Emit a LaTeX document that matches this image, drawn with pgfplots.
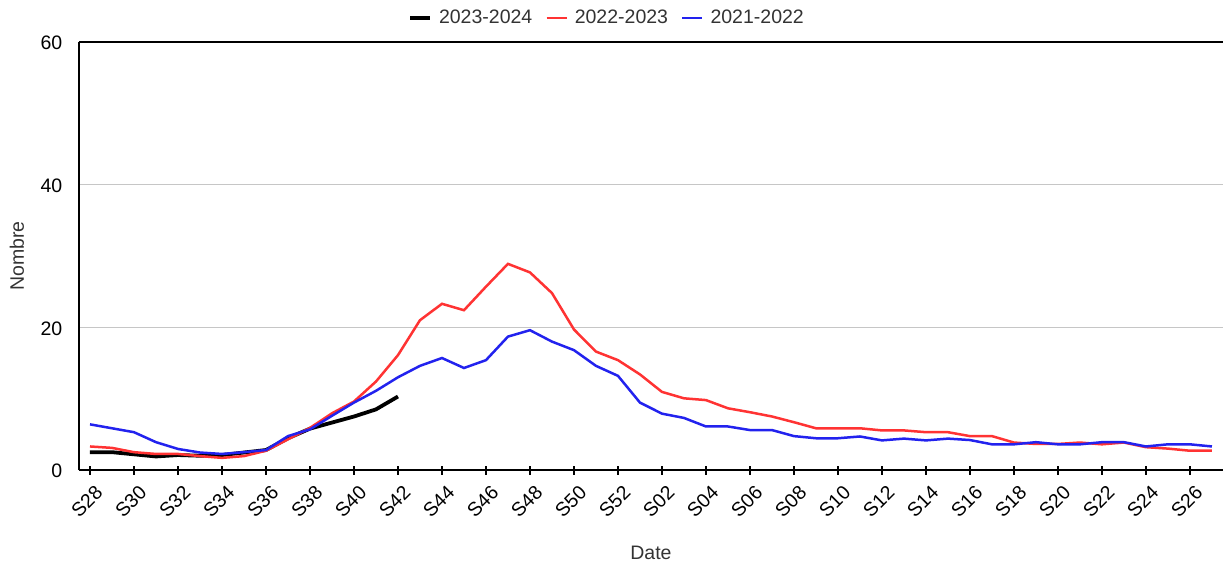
\documentclass[border=0pt]{standalone}
\usepackage{fontspec}
\setmainfont{Liberation Sans}
\usepackage{pgfplots}
\pgfplotsset{compat=1.18}
\usepackage{pgfplotstable}
\definecolor{cred}{RGB}{255,51,51}
\definecolor{cblue}{RGB}{34,34,238}
\definecolor{ctext}{RGB}{51,51,51}
\pgfplotstableread{
x y
0 2.5
1 2.5
2 2.2
3 1.9
4 2.1
5 2.0
6 2.1
7 2.45
8 2.8
9 4.45
10 5.8
11 6.65
12 7.5
13 8.5
14 10.3
}\blackdata
\pgfplotstableread{
x y
0 3.3
1 3.1
2 2.5
3 2.25
4 2.25
5 1.95
6 1.7
7 1.95
8 2.7
9 4.3
10 5.9
11 7.95
12 9.6
13 12.4
14 16.1
15 21.0
16 23.3
17 22.4
18 25.7
19 28.9
20 27.7
21 24.8
22 19.7
23 16.6
24 15.4
25 13.4
26 10.95
27 10.05
28 9.8
29 8.65
30 8.1
31 7.5
32 6.7
33 5.85
34 5.85
35 5.85
36 5.55
37 5.55
38 5.3
39 5.3
40 4.75
41 4.75
42 3.85
43 3.65
44 3.65
45 3.85
46 3.6
47 3.85
48 3.2
49 3.0
50 2.7
51 2.7
}\reddata
\pgfplotstableread{
x y
0 6.4
1 5.85
2 5.3
3 3.9
4 2.95
5 2.45
6 2.25
7 2.5
8 2.8
9 4.75
10 5.7
11 7.6
12 9.45
13 11.1
14 13.0
15 14.6
16 15.7
17 14.3
18 15.4
19 18.7
20 19.6
21 18.0
22 16.8
23 14.6
24 13.2
25 9.45
26 7.9
27 7.3
28 6.1
29 6.1
30 5.6
31 5.6
32 4.75
33 4.45
34 4.45
35 4.7
36 4.15
37 4.4
38 4.15
39 4.4
40 4.2
41 3.6
42 3.6
43 3.9
44 3.6
45 3.6
46 3.9
47 3.9
48 3.3
49 3.6
50 3.6
51 3.3
}\bluedata
\begin{document}
\fontsize{19.5pt}{23pt}\selectfont
\begin{tikzpicture}
\begin{axis}[
  at={(0pt,0pt)}, anchor=south west,
  scale only axis, width=1144pt, height=428pt,
  xmin=-0.5, xmax=51.5, ymin=0, ymax=60,
  axis x line*=bottom, axis y line*=left,
  axis line style={-, black, line width=1.5pt},
  xtick={0,2,...,50},
  xticklabels={S28,S30,S32,S34,S36,S38,S40,S42,S44,S46,S48,S50,S52,S02,S04,S06,S08,S10,S12,S14,S16,S18,S20,S22,S24,S26},
  xticklabel style={rotate=45, anchor=east, inner sep=1pt, yshift=-17pt, xshift=-3pt},
  x tick style={black, line width=1.2pt},
  major tick length=9pt, tick align=center,
  ytick={0,20,40,60},
  y tick style={draw=none},
  yticklabel style={anchor=east, inner sep=0pt, xshift=-12pt, yshift=-1pt},
  ymajorgrids, grid style={gray!45, line width=1pt},
  /pgf/number format/assume math mode=true,
  xlabel={Date}, ylabel={Nombre},
  xlabel style={text=ctext, at={(axis description cs:0.5,0)}, anchor=base, yshift=-89pt},
  ylabel style={text=ctext, at={(axis description cs:0,0.5)}, anchor=base, yshift=55pt},
  legend style={draw=none, fill=none, text=ctext, at={(axis description cs:0.4616,1)}, anchor=center, yshift=24pt, legend columns=-1, /tikz/every even column/.append style={column sep=11pt}},
  legend image code/.code={\draw[#1] (0pt,0pt) -- (20pt,0pt); \path (25pt,0pt);},
  extra description/.code={\draw[black, line width=1.5pt] (rel axis cs:0,1) -- (rel axis cs:1,1);},
  clip=false,
]
\addplot[black, line width=3.8pt] table[x=x,y=y] {\blackdata};
\addlegendentry{2023-2024}
\addplot[cred, line width=2.5pt] table[x=x,y=y] {\reddata};
\addlegendentry{2022-2023}
\addplot[cblue, line width=2.5pt] table[x=x,y=y] {\bluedata};
\addlegendentry{2021-2022}
\end{axis}
\pgfresetboundingbox
\path[use as bounding box] (-79pt,-98pt) rectangle (1144pt,470pt);
\end{tikzpicture}
\end{document}
